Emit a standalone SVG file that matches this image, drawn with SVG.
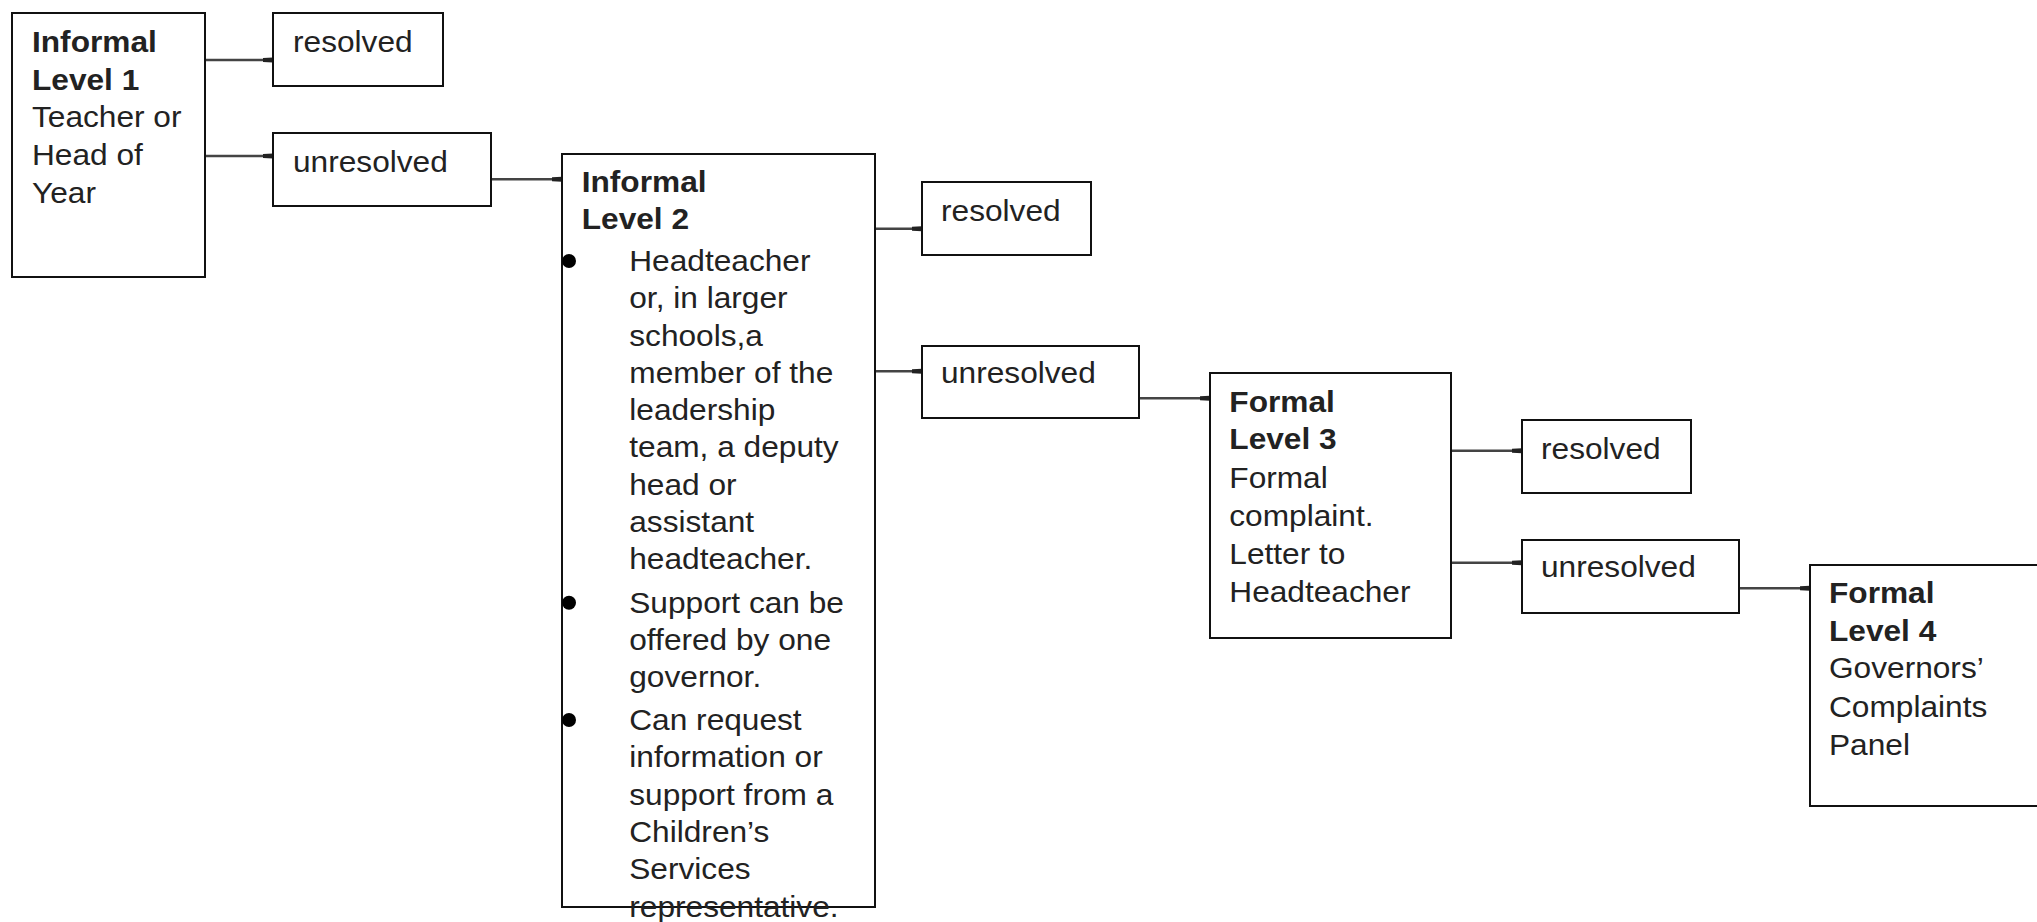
<svg xmlns="http://www.w3.org/2000/svg" width="2037" height="922" viewBox="0 0 2037 922">
<style>
.box{fill:#fff;stroke:#111;stroke-width:2}
.t{font-family:"Liberation Sans",Arial,sans-serif;font-size:30px;fill:#222}
.b{font-weight:bold}
.c{stroke:#444;stroke-width:2.5;fill:none;marker-end:url(#ah)}
</style>
<defs>
<marker id="ah" viewBox="0 -3 10 6" refX="10" refY="0" markerWidth="10" markerHeight="6" markerUnits="userSpaceOnUse" orient="auto">
<path d="M0,-2 L10,-2.5 L10,2.5 L0,2 z" fill="#222"/>
</marker>
</defs>
<rect width="2037" height="922" fill="#fff"/>
<g id="connectors">
<line class="c" x1="205" y1="60" x2="273" y2="60"/>
<line class="c" x1="205" y1="156" x2="273" y2="156"/>
<line class="c" x1="491" y1="179.3" x2="562" y2="179.3"/>
<line class="c" x1="875" y1="228.7" x2="922" y2="228.7"/>
<line class="c" x1="875" y1="371.3" x2="922" y2="371.3"/>
<line class="c" x1="1139" y1="398.3" x2="1210" y2="398.3"/>
<line class="c" x1="1451" y1="450.7" x2="1522" y2="450.7"/>
<line class="c" x1="1451" y1="562.7" x2="1522" y2="562.7"/>
<line class="c" x1="1739" y1="588.3" x2="1810" y2="588.3"/>
</g>
<g id="level1">
<rect class="box" x="12" y="13" width="193" height="264"/>
<text class="t" transform="translate(32,0) scale(1.055,1)"><tspan class="b" x="0" y="52.3">Informal</tspan><tspan class="b" x="0" y="89.8">Level 1</tspan><tspan x="0" y="127.5">Teacher or</tspan><tspan x="0" y="165.3">Head of</tspan><tspan x="0" y="203">Year</tspan></text>
</g>
<g id="resolved1">
<rect class="box" x="273" y="13" width="170" height="73"/>
<text class="t" transform="translate(293,0) scale(1.055,1)" x="0" y="52">resolved</text>
</g>
<g id="unresolved1">
<rect class="box" x="273" y="133" width="218" height="73"/>
<text class="t" transform="translate(293,0) scale(1.055,1)" x="0" y="172">unresolved</text>
</g>
<g id="level2">
<rect class="box" x="562" y="154" width="313" height="753"/>
<circle cx="569" cy="261" r="7" fill="#000"/>
<circle cx="569" cy="602.7" r="7" fill="#000"/>
<circle cx="569" cy="720" r="7" fill="#000"/>
<text class="t" transform="translate(581.7,0) scale(1.055,1)"><tspan class="b" x="0" y="191.7">Informal</tspan><tspan class="b" x="0" y="229">Level 2</tspan><tspan x="45.1" y="270.7">Headteacher</tspan><tspan x="45.1" y="308.2">or, in larger</tspan><tspan x="45.1" y="345.7">schools,a</tspan><tspan x="45.1" y="383.2">member of the</tspan><tspan x="45.1" y="420.5">leadership</tspan><tspan x="45.1" y="457.5">team, a deputy</tspan><tspan x="45.1" y="495">head or</tspan><tspan x="45.1" y="532">assistant</tspan><tspan x="45.1" y="569.5">headteacher.</tspan><tspan x="45.1" y="612.7">Support can be</tspan><tspan x="45.1" y="650">offered by one</tspan><tspan x="45.1" y="687.5">governor.</tspan><tspan x="45.1" y="730">Can request</tspan><tspan x="45.1" y="767.3">information or</tspan><tspan x="45.1" y="804.7">support from a</tspan><tspan x="45.1" y="842">Children’s</tspan><tspan x="45.1" y="879.3">Services</tspan><tspan x="45.1" y="916.7">representative.</tspan></text>
</g>
<g id="resolved2">
<rect class="box" x="922" y="182" width="169" height="73"/>
<text class="t" transform="translate(941,0) scale(1.055,1)" x="0" y="221">resolved</text>
</g>
<g id="unresolved2">
<rect class="box" x="922" y="346" width="217" height="72"/>
<text class="t" transform="translate(941,0) scale(1.055,1)" x="0" y="383.3">unresolved</text>
</g>
<g id="level3">
<rect class="box" x="1210" y="373" width="241" height="265"/>
<text class="t" transform="translate(1229.3,0) scale(1.055,1)"><tspan class="b" x="0" y="411.7">Formal</tspan><tspan class="b" x="0" y="449">Level 3</tspan><tspan x="0" y="488.3">Formal</tspan><tspan x="0" y="525.7">complaint.</tspan><tspan x="0" y="564">Letter to</tspan><tspan x="0" y="601.7">Headteacher</tspan></text>
</g>
<g id="resolved3">
<rect class="box" x="1522" y="420" width="169" height="73"/>
<text class="t" transform="translate(1541,0) scale(1.055,1)" x="0" y="459">resolved</text>
</g>
<g id="unresolved3">
<rect class="box" x="1522" y="540" width="217" height="73"/>
<text class="t" transform="translate(1541,0) scale(1.055,1)" x="0" y="577.3">unresolved</text>
</g>
<g id="level4">
<rect class="box" x="1810" y="565" width="260" height="241"/>
<text class="t" transform="translate(1829,0) scale(1.055,1)"><tspan class="b" x="0" y="603.3">Formal</tspan><tspan class="b" x="0" y="641">Level 4</tspan><tspan x="0" y="678.5">Governors’</tspan><tspan x="0" y="716.7">Complaints</tspan><tspan x="0" y="755.5">Panel</tspan></text>
</g>
</svg>
